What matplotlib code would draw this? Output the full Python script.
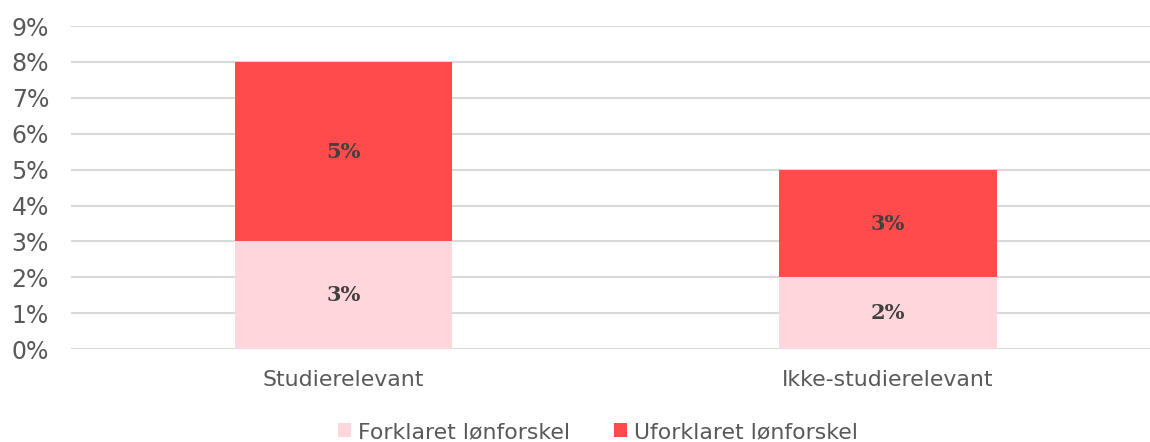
import matplotlib.pyplot as plt
import numpy as np

categories = ["Studierelevant", "Ikke-studierelevant"]
forklaret = [3, 2]
uforklaret = [5, 3]
yticks = [0, 1, 2, 3, 4, 5, 6, 7, 8, 9]

fig = plt.figure(figsize=(11.5, 4.42), dpi=100)
ax = fig.add_axes([0.062, 0.21, 0.938, 0.731])

x = np.arange(len(categories))
b1 = ax.bar(x, forklaret, width=0.4, color="#FFD6DB", label="Forklaret lønforskel", zorder=2)
b2 = ax.bar(x, uforklaret, width=0.4, bottom=forklaret, color="#FF4B4B",
            label="Uforklaret lønforskel", zorder=2)

for rects, vals, bottoms in [(b1, forklaret, [0, 0]), (b2, uforklaret, forklaret)]:
    for r, v, b in zip(rects, vals, bottoms):
        ax.text(r.get_x() + r.get_width() / 2, b + v / 2, f"{v}%", ha="center", va="center",
                fontsize=15, fontweight="bold", family="DejaVu Serif", color="#404040", zorder=3)

ax.set_xlim(-0.5, 1.482)
ax.set_ylim(0, 9)
ax.set_yticks(yticks)
ax.set_yticklabels([f"{t}%" for t in yticks])
ax.set_xticks(x)
ax.set_xticklabels(categories)
ax.tick_params(axis="both", length=0, labelsize=15.8, colors="#595959")
ax.tick_params(axis="y", labelsize=17, pad=16)
ax.tick_params(axis="x", pad=15)
ax.grid(axis="y", color="#D9D9D9", linewidth=1.5, zorder=0)
for s in ax.spines.values():
    s.set_visible(False)

fig.legend(handles=[b1, b2], loc="lower center", bbox_to_anchor=(0.52, -0.045), ncol=2,
           frameon=False, fontsize=15.8, handlelength=0.6, handleheight=0.6,
           handletextpad=0.3, columnspacing=2.0, labelcolor="#595959")

fig.savefig("out.png", dpi=100)
